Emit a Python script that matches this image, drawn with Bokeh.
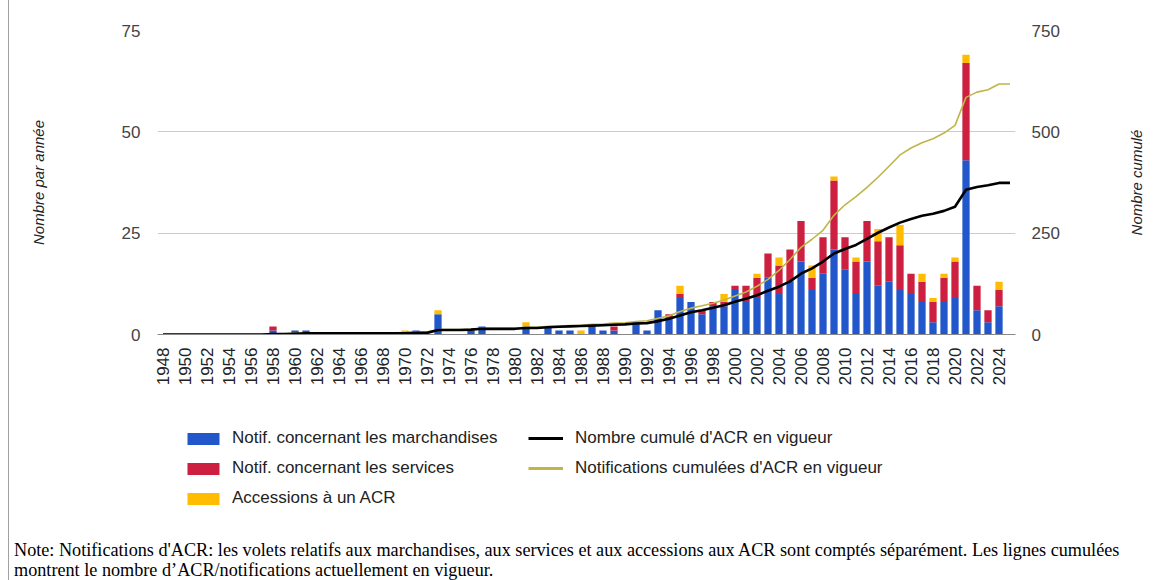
import math
from bokeh.plotting import figure
from bokeh.models import (Range1d, LinearAxis, FixedTicker, Legend, LegendItem,
                          ColumnDataSource, Div, Label)
from bokeh.layouts import column, row
from bokeh.embed import file_html
from bokeh.resources import INLINE

# ---------------- data ----------------
years = list(range(1948, 2026))

goods = [0, 0, 0, 0, 0, 0, 0, 0, 0, 0,          # 1948-1957
         1, 0, 1, 1, 0, 0, 0, 0, 0, 0,          # 1958-1967
         0, 0, 0, 1, 0, 5, 0, 0, 1, 2,          # 1968-1977
         0, 0, 0, 2, 0, 2, 1, 1, 0, 2,          # 1978-1987
         1, 1, 0, 3, 1, 6, 4, 9, 8, 5,          # 1988-1997
         7, 7, 11, 8, 9, 14, 10, 13, 18, 11,    # 1998-2007
         15, 21, 16, 10, 18, 12, 13, 11, 10, 8, # 2008-2017
         3, 8, 9, 43, 6, 3, 7, 0]               # 2018-2025

services = [0, 0, 0, 0, 0, 0, 0, 0, 0, 0,
            1, 0, 0, 0, 0, 0, 0, 0, 0, 0,
            0, 0, 0, 0, 0, 0, 0, 0, 0, 0,
            0, 0, 0, 0, 0, 0, 0, 0, 0, 0,
            0, 1, 0, 0, 0, 0, 1, 1, 0, 1,
            1, 1, 1, 4, 5, 6, 7, 8, 10, 3,
            9, 17, 8, 8, 10, 11, 11, 11, 5, 5,
            5, 6, 9, 24, 6, 3, 4, 0]

accessions = [0, 0, 0, 0, 0, 0, 0, 0, 0, 0,
              0, 0, 0, 0, 0, 0, 0, 0, 0, 0,
              0, 0, 1, 0, 0, 1, 0, 0, 0, 0,
              0, 0, 0, 1, 0, 0, 0, 0, 1, 0,
              0, 0, 0, 0, 0, 0, 0, 2, 0, 0,
              0, 2, 0, 0, 1, 0, 2, 0, 0, 3,
              0, 1, 0, 1, 0, 3, 0, 5, 0, 2,
              1, 1, 1, 2, 0, 0, 2, 0]

cum_rtas = [0, 0, 0, 0, 0, 0, 0, 0, 0, 0,
            1, 1, 2, 3, 3, 3, 3, 3, 3, 3,
            3, 3, 3, 4, 4, 11, 11, 11, 12, 14,
            14, 14, 14, 16, 16, 18, 19, 20, 21, 22,
            23, 24, 25, 27, 28, 33, 39, 47, 55, 60,
            66, 72, 81, 88, 97, 108, 118, 131, 150, 163,
            180, 200, 211, 221, 236, 251, 264, 276, 285, 293,
            298, 305, 315, 357, 364, 368, 374, 374]

cum_notifs = [0, 0, 0, 0, 0, 0, 0, 0, 0, 0,
              2, 2, 3, 4, 4, 4, 4, 4, 4, 4,
              4, 4, 5, 6, 6, 12, 12, 12, 13, 15,
              15, 15, 15, 18, 18, 20, 21, 22, 23, 25,
              26, 28, 29, 32, 34, 40, 46, 57, 65, 71,
              77, 85, 95, 105, 119, 136, 158, 185, 215, 235,
              257, 294, 320, 340, 363, 388, 415, 443, 460, 473,
              483, 497, 516, 585, 598, 604, 618, 618]

left_ticks = [0, 25, 50, 75]
right_ticks = [0, 250, 500, 750]
x_ticks = list(range(1948, 2025, 2))

series_names = ["Notif. concernant les marchandises",
                "Notif. concernant les services",
                "Accessions à un ACR"]
line_names = ["Nombre cumulé d'ACR en vigueur",
              "Notifications cumulées d'ACR en vigueur"]
left_title = "Nombre par année"
right_title = "Nombre cumulé"
note_lines = ["Note: Notifications d'ACR: les volets relatifs aux marchandises, aux services et aux accessions aux ACR sont comptés séparément. Les lignes cumulées",
              "montrent le nombre d\u2019ACR/notifications actuellement en vigueur."]

BLUE = "#2157ca"
RED = "#cd1f3f"
YELLOW = "#ffbc00"
OLIVE = "#c0b548"
bar_colors = [BLUE, RED, YELLOW]

W = 1157      # total content width (page x 9 .. 1166)
RW = 40       # width of the strip holding the right axis title
H_MAIN = 400

# ---------------- main chart ----------------
p = figure(width=W - RW, height=H_MAIN, output_backend="svg", toolbar_location=None,
           x_range=Range1d(1947.5, 2025.5), y_range=Range1d(0, 75),
           min_border_left=148, min_border_right=151 - RW,
           min_border_top=30, min_border_bottom=66)
p.extra_y_ranges = {"cum": Range1d(0, 750)}
p.outline_line_color = None
p.background_fill_color = "white"
p.border_fill_color = "white"

src = ColumnDataSource(dict(year=years, goods=goods, services=services,
                            accessions=accessions))
p.vbar_stack(["goods", "services", "accessions"], x="year", width=0.66,
             fill_color=bar_colors, line_color=None, source=src)

p.line(years, cum_notifs, y_range_name="cum", line_color=OLIVE, line_width=1.6)
p.line(years, cum_rtas, y_range_name="cum", line_color="black", line_width=2.6)

p.xgrid.grid_line_color = None
p.ygrid.ticker = FixedTicker(ticks=left_ticks)
p.ygrid.grid_line_color = "#cccccc"

xa = p.xaxis[0]
xa.ticker = FixedTicker(ticks=x_ticks)
xa.major_label_orientation = math.pi / 2
xa.axis_line_color = "#888888"
xa.major_tick_line_color = None
xa.minor_tick_line_color = None
xa.major_tick_out = 0
xa.major_tick_in = 0
xa.minor_tick_out = 0
xa.major_label_standoff = 13
xa.major_label_text_font = "Liberation Sans"
xa.major_label_text_font_size = "17px"
xa.major_label_text_color = "#222222"

ya = p.yaxis[0]
ya.ticker = FixedTicker(ticks=left_ticks)
ya.axis_line_color = None
ya.major_tick_line_color = None
ya.minor_tick_line_color = None
ya.major_tick_out = 0
ya.major_tick_in = 0
ya.minor_tick_out = 0
ya.major_label_standoff = 17
ya.major_label_text_font = "Liberation Sans"
ya.major_label_text_font_size = "17px"
ya.major_label_text_color = "#444444"
ya.axis_label = left_title
ya.axis_label_standoff = 72
ya.axis_label_text_font = "Liberation Sans"
ya.axis_label_text_font_style = "italic"
ya.axis_label_text_font_size = "15px"
ya.axis_label_text_color = "#222222"

ra = LinearAxis(y_range_name="cum", ticker=FixedTicker(ticks=right_ticks))
ra.axis_line_color = None
ra.major_tick_line_color = None
ra.minor_tick_line_color = None
ra.major_tick_out = 0
ra.major_tick_in = 0
ra.minor_tick_out = 0
ra.major_label_standoff = 16
ra.major_label_text_font = "Liberation Sans"
ra.major_label_text_font_size = "17px"
ra.major_label_text_color = "#444444"
p.add_layout(ra, "right")

# ---------------- right title strip ----------------
r = figure(width=RW, height=H_MAIN, output_backend="svg", toolbar_location=None,
           x_range=Range1d(0, 1), y_range=Range1d(0, 1),
           x_axis_location=None, y_axis_location=None,
           min_border_left=0, min_border_right=0,
           min_border_top=30, min_border_bottom=66)
r.outline_line_color = None
r.xgrid.grid_line_color = None
r.ygrid.grid_line_color = None
r.background_fill_color = "white"
r.border_fill_color = "white"
r.add_layout(Label(x=10, y=152, x_units="screen", y_units="screen",
                   text=right_title, angle=math.pi / 2, text_align="center",
                   text_baseline="middle", text_font="Liberation Sans",
                   text_font_style="italic", text_font_size="15px",
                   text_color="#222222"))

# ---------------- legend strip ----------------
LH = 140
q = figure(width=W, height=LH, output_backend="svg", toolbar_location=None,
           x_range=Range1d(0, 1), y_range=Range1d(0, 1),
           x_axis_location=None, y_axis_location=None,
           min_border_left=148, min_border_right=151, min_border_top=0,
           min_border_bottom=0)
q.outline_line_color = None
q.xgrid.grid_line_color = None
q.ygrid.grid_line_color = None
q.background_fill_color = "white"
q.border_fill_color = "white"

# proxy glyphs placed outside the visible range (only used to draw legend keys)
bar_proxies = [q.vbar(x=[-5], top=[-5], bottom=[-6], width=0.5, fill_color=c,
                      line_color=None) for c in bar_colors]
line_proxies = [q.line(x=[-6, -5], y=[-6, -5], line_color="black", line_width=3),
                q.line(x=[-6, -5], y=[-6, -5], line_color=OLIVE, line_width=3)]

common = dict(orientation="vertical", label_height=20,
              spacing=10, padding=0, margin=0, border_line_color=None,
              background_fill_alpha=0, label_text_font="Liberation Sans",
              label_text_font_size="17px", label_text_color="#222222")
leg1 = Legend(items=[LegendItem(label=n, renderers=[rr])
                     for n, rr in zip(series_names, bar_proxies)],
              location=(26, LH - 28 - 80), glyph_width=40, glyph_height=15,
              label_standoff=9, **common)
leg2 = Legend(items=[LegendItem(label=n, renderers=[rr])
                     for n, rr in zip(line_names, line_proxies)],
              location=(371, LH - 28 - 50), glyph_width=35, glyph_height=12,
              label_standoff=12, **common)
q.add_layout(leg1, "center")
q.add_layout(leg2, "center")

# ---------------- note ----------------
note = Div(text="<br>".join(note_lines), width=W, height=40,
           styles={"font-family": "'Liberation Serif', serif", "font-size": "18.2px",
                   "line-height": "20px", "color": "#000000",
                   "white-space": "nowrap", "padding-left": "5px",
                   "margin": "0px"})

layout = column(row(p, r, spacing=0), q, note, spacing=0,
                styles={"margin-left": "8px", "border-left": "1px solid #a0a0a0"})

open("out.html", "w").write(file_html(layout, INLINE))
